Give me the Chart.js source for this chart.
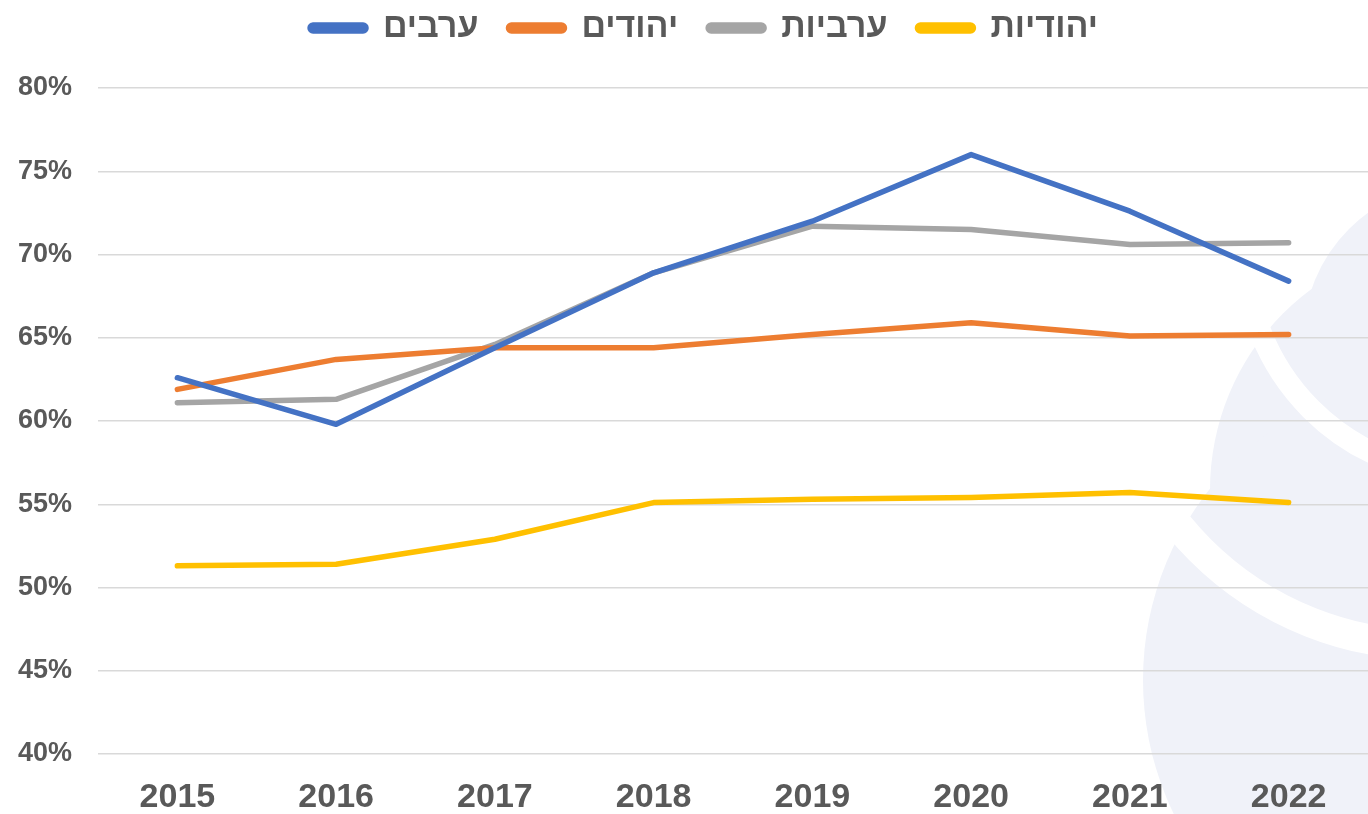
<!DOCTYPE html>
<html>
<head>
<meta charset="utf-8">
<script src="https://cdn.jsdelivr.net/npm/chart.js@4.4.1/dist/chart.umd.min.js"></script>
<style>
html,body{margin:0;padding:0;background:#fff;}
#wrap{width:1368px;height:814px;position:relative;}
</style>
</head>
<body>
<div id="wrap"><canvas id="c" width="1368" height="814"></canvas></div>
<script>
const categories = ['2015','2016','2017','2018','2019','2020','2021','2022'];
const arabMen     = [62.6, 59.8, 64.4, 68.9, 72.0, 76.0, 72.6, 68.4];
const jewishMen   = [61.9, 63.7, 64.4, 64.4, 65.2, 65.9, 65.1, 65.2];
const arabWomen   = [61.1, 61.3, 64.6, 68.9, 71.7, 71.5, 70.6, 70.7];
const jewishWomen = [51.3, 51.4, 52.9, 55.1, 55.3, 55.4, 55.7, 55.1];
const seriesNames = ['ערבים','יהודים','ערביות','יהודיות'];
const yTicks = [40,45,50,55,60,65,70,75,80];

const colors = ['#4472C4','#ED7D31','#A5A5A5','#FFC000'];
const txt = '#595959';

function ds(label, data, color){
  return {label, data, borderColor: color, backgroundColor: color, borderWidth: 5.5,
    pointRadius: 0, pointHoverRadius: 0, tension: 0, borderJoinStyle: 'round', borderCapStyle: 'round', fill: false};
}

const watermark = {
  id: 'watermark',
  beforeDraw(chart){
    const ctx = chart.ctx;
    ctx.save();
    ctx.fillStyle = '#f0f2f9';
    const circ = (x,y,r) => { ctx.beginPath(); ctx.arc(x,y,r,0,Math.PI*2); ctx.fill(); };
    circ(1460,340,157);
    circ(1460,490,250);
    circ(1450,680,307);
    ctx.strokeStyle = '#ffffff';
    ctx.lineWidth = 22;
    ctx.beginPath(); ctx.arc(1470,250,225,0,Math.PI*2); ctx.stroke();
    ctx.lineWidth = 30;
    ctx.beginPath(); ctx.arc(1430,320,325,0,Math.PI*2); ctx.stroke();
    ctx.restore();
  }
};

const legendFix = {
  id: 'legendFix',
  afterInit(chart){
    const lg = chart.legend;
    if (!lg || lg._patched) return;
    const of = lg.fit.bind(lg);
    lg.fit = function(){ of(); this.height = 88; };
    const od = lg.draw.bind(lg);
    lg.draw = function(){ const t = this.top, l = this.left, r = this.right;
      this.top = t - 19; this.left = l + 20; this.right = r + 20; od(); this.top = t; this.left = l; this.right = r; };
    lg._patched = true;
  }
};

new Chart(document.getElementById('c'), {
  type: 'line',
  data: {
    labels: categories,
    datasets: [
      ds(seriesNames[0], arabMen, colors[0]),
      ds(seriesNames[1], jewishMen, colors[1]),
      ds(seriesNames[2], arabWomen, colors[2]),
      ds(seriesNames[3], jewishWomen, colors[3])
    ]
  },
  plugins: [watermark, legendFix],
  options: {
    responsive: false,
    animation: false,
    devicePixelRatio: 1,
    layout: {padding: {left: 0, right: 0, top: 0, bottom: 0}},
    plugins: {
      tooltip: {enabled: false},
      legend: {
        display: true,
        position: 'top',
        labels: {
          color: txt,
          font: {family: '"Liberation Sans", Arial, sans-serif', size: 34, weight: 'bold'},
          boxWidth: 56,
          boxHeight: 6,
          useBorderRadius: true,
          borderRadius: 3,
          padding: 30
        }
      }
    },
    scales: {
      x: {
        offset: true,
        grid: {display: false, drawTicks: false},
        border: {display: false},
        ticks: {color: txt, font: {family: '"Liberation Sans", Arial, sans-serif', size: 34, weight: 'bold'}, padding: 23, maxRotation: 0, autoSkip: false},
        afterFit(s){ s.height = 60; }
      },
      y: {
        min: 40, max: 80,
        afterBuildTicks(s){ s.ticks = yTicks.map(v => ({value: v})); },
        grid: {color: '#d9d9d9', lineWidth: 1.5, drawTicks: false},
        border: {display: false},
        ticks: {color: txt, font: {family: '"Liberation Sans", Arial, sans-serif', size: 27, weight: 'bold'}, padding: 26,
          callback: v => v + '%'},
        afterFit(s){ s.width = 98; }
      }
    }
  }
});
</script>
</body>
</html>
